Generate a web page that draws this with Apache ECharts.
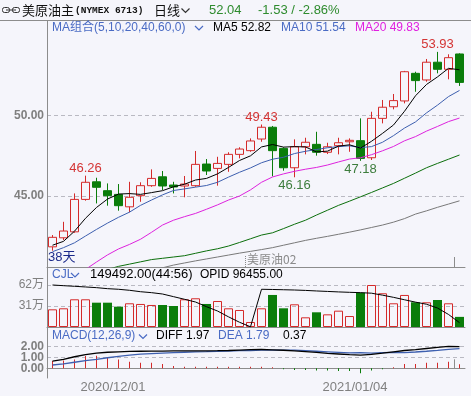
<!DOCTYPE html>
<html><head><meta charset="utf-8">
<script src="https://cdn.jsdelivr.net/npm/echarts@6/dist/echarts.min.js"></script>
<style>html,body{margin:0;padding:0;background:#f5f5fb;}#c{width:471px;height:396px;}</style>
</head><body><div id="c"></div>
<script>
const dates = ['2020/11/23','2020/11/24','2020/11/25','2020/11/26','2020/11/27','2020/11/30','2020/12/01','2020/12/02','2020/12/03','2020/12/04','2020/12/07','2020/12/08','2020/12/09','2020/12/10','2020/12/11','2020/12/14','2020/12/15','2020/12/16','2020/12/17','2020/12/18','2020/12/21','2020/12/22','2020/12/23','2020/12/24','2020/12/28','2020/12/29','2020/12/30','2020/12/31','2021/01/04','2021/01/05','2021/01/06','2021/01/07','2021/01/08','2021/01/11','2021/01/12','2021/01/13','2021/01/14','2021/01/15'];
const opens  = [41.85,42.41,42.78,44.79,45.88,45.33,45.10,44.33,45.02,45.64,46.19,45.68,45.62,45.64,46.98,46.71,46.96,47.58,47.81,48.53,49.26,47.95,46.75,48.05,48.20,47.71,48.12,48.36,48.43,47.37,49.81,50.53,50.89,52.60,52.19,53.29,52.85,53.80];
const closes = [42.44,42.83,44.79,45.85,45.54,45.02,44.40,44.92,45.64,46.09,45.62,45.56,45.74,46.96,46.55,47.02,47.58,47.91,48.41,49.26,47.81,46.75,48.05,48.33,47.71,48.05,48.30,48.45,47.33,49.81,50.50,50.91,52.70,52.15,53.29,52.85,53.57,52.04];
const lows   = [41.61,42.27,42.72,44.71,44.54,44.40,44.09,43.99,44.64,45.57,45.37,45.16,44.92,45.57,46.30,45.64,46.50,47.33,47.74,48.36,46.22,46.57,46.16,47.58,47.50,47.60,47.58,47.74,47.18,47.23,49.50,50.37,50.74,51.46,52.08,52.60,52.23,51.82];
const highs  = [42.58,43.40,45.16,46.26,46.13,45.78,45.74,45.88,45.85,46.65,46.55,45.88,46.24,47.79,47.29,47.43,47.71,48.02,48.57,49.43,49.34,48.02,48.51,48.61,48.98,48.30,48.61,48.57,49.81,50.22,50.95,51.32,52.75,52.70,53.49,53.93,53.78,53.84];
const ma5  = [41.95,42.19,42.82,43.62,44.29,44.81,45.12,45.15,45.10,45.21,45.33,45.57,45.73,45.99,46.09,46.37,46.77,47.20,47.49,48.04,48.19,48.03,48.06,48.04,47.73,47.78,48.09,48.17,47.97,48.39,48.88,49.40,50.25,51.21,51.91,52.38,52.91,52.82];
const ma10 = [41.55,41.80,42.10,42.52,42.93,43.32,43.68,44.00,44.42,44.75,45.07,45.34,45.44,45.55,45.65,45.85,46.17,46.47,46.74,47.06,47.28,47.40,47.63,47.77,47.88,47.99,48.06,48.11,48.00,48.06,48.33,48.74,49.21,49.59,50.15,50.63,51.16,51.54];
const ma20 = [null,null,null,40.45,40.91,41.35,41.72,42.00,42.32,42.75,43.20,43.50,43.72,43.92,44.18,44.45,44.75,45.00,45.38,45.85,46.18,46.37,46.53,46.66,46.77,46.92,47.11,47.29,47.37,47.56,47.80,48.07,48.42,48.68,49.02,49.31,49.61,49.83];
const ma40 = [null,null,null,null,null,40.45,40.64,40.78,40.92,41.06,41.14,41.22,41.30,41.45,41.60,41.73,41.90,42.12,42.35,42.58,42.72,42.98,43.25,43.50,43.82,44.12,44.42,44.68,44.95,45.22,45.50,45.78,46.10,46.42,46.75,47.02,47.28,47.54];
const ma60 = [null,null,null,null,null,null,null,null,null,40.40,40.55,40.72,40.85,40.98,41.10,41.22,41.34,41.46,41.57,41.68,41.80,41.95,42.10,42.25,42.38,42.50,42.63,42.76,42.90,43.05,43.20,43.38,43.60,43.88,44.08,44.30,44.50,44.70];
const volumes = [261000,276000,409000,409000,359000,359000,300000,350000,340000,325000,325000,310000,409000,424000,340000,384000,276000,251000,74000,276000,473000,276000,335000,143000,217000,187000,241000,162000,507000,620000,498000,350000,473000,365000,365000,399000,350000,149492];
const openInterest = [620000,610000,601000,591000,581000,566000,557000,542000,521000,507000,487000,448000,409000,369000,300000,236000,150000,70000,3000,557000,554000,550000,546000,540000,532000,525000,518000,512000,507000,499000,470000,438000,402000,367000,336000,280000,185000,64000];
const diff = [0.66,0.82,1.05,1.25,1.38,1.46,1.50,1.53,1.55,1.56,1.57,1.58,1.59,1.59,1.59,1.60,1.62,1.66,1.69,1.71,1.68,1.64,1.58,1.52,1.44,1.36,1.30,1.24,1.19,1.27,1.38,1.50,1.62,1.70,1.80,1.90,2.00,1.97];
const dea  = [0.30,0.40,0.55,0.70,0.82,0.96,1.08,1.20,1.28,1.33,1.38,1.43,1.46,1.49,1.51,1.54,1.56,1.60,1.62,1.65,1.65,1.66,1.65,1.60,1.55,1.50,1.45,1.40,1.42,1.38,1.42,1.45,1.43,1.48,1.55,1.63,1.72,1.79];
const macdHist = [0.66,0.72,0.81,1.11,1.14,1.00,0.81,0.60,0.51,0.51,0.39,0.21,0.15,0.15,0.15,0.14,0.14,0.14,0.14,0.14,0.09,-0.09,-0.15,-0.15,-0.20,-0.20,-0.24,-0.24,-0.45,-0.20,-0.09,0.09,0.39,0.39,0.51,0.51,0.60,0.37];
const priceTicks = [45, 50];
const volTicks = [310000, 620000];
const macdTicks = [0, 1, 2];
const dateLabelIdx = [6, 28];
const lastTickIdx = [37];
const rollIdx = [18];
const rollName = '美原油02';
const highMarkIdx = [3, 19, 35];
const lowMarkIdx = [22, 28];

const UP = '#d42a2a', DOWN = '#0a7d0a', AX = '#8c8c8c', GRIDC = '#b9b9c2';
const LAT = 'Liberation Sans, Noto Sans CJK SC';
const chart = echarts.init(document.getElementById('c'), null, {renderer: 'canvas'});

function catAxis(g) {
  return {type: 'category', gridIndex: g, data: dates, boundaryGap: true, position: 'bottom',
    axisLine: {show: true, lineStyle: {color: AX, width: 1}}, axisTick: {show: false}, axisLabel: {show: false}, splitLine: {show: false}};
}
function valX(g, extra) {
  return Object.assign({type: 'value', gridIndex: g, min: 0, max: dates.length, position: 'bottom',
    axisLine: {show: false}, splitLine: {show: false}, axisLabel: {show: false}, axisTick: {show: false}}, extra);
}
const yLabel = {color: '#7f7f7f', fontSize: 12, fontFamily: LAT, margin: 3, hideOverlap: false, showMinLabel: true, showMaxLabel: true};
const dash = {show: true, lineStyle: {color: GRIDC, type: [4, 3], width: 1}};
const MACD_MIN = -0.882, MACD_MAX = 3.755;

const txt = (t, x, y, fill, size, fam, weight) => ({type: 'text', x: x, y: y, silent: true,
  style: {text: t, fill: fill, fontSize: size, fontFamily: fam || LAT, fontWeight: weight || 'normal', verticalAlign: 'middle'}});
const chev = (x, y, c) => ({type: 'polyline', silent: true, shape: {points: [[x, y - 2], [x + 4, y + 2], [x + 8, y - 2]]}, style: {stroke: c, fill: null, lineWidth: 1.2}});

const option = {
  animation: false,
  backgroundColor: '#f5f5fb',
  grid: [
    {left: 47, width: 418, top: 21, height: 246},
    {left: 47, width: 418, top: 267, height: 60},
    {left: 47, width: 418, top: 327, height: 51}
  ],
  xAxis: [
    catAxis(0), catAxis(1), catAxis(2),
    valX(0, {axisTick: {show: true, inside: true, length: 10, customValues: lastTickIdx, lineStyle: {color: AX}}}),
    valX(0, {axisTick: {show: true, inside: true, length: 12, customValues: rollIdx, lineStyle: {color: '#888', type: 'dotted'}},
             axisLabel: {show: true, inside: true, customValues: rollIdx, formatter: () => rollName, align: 'left', padding: [0, 0, 0, 2], margin: 2, color: '#8a8a8a', fontSize: 12, fontFamily: 'Noto Sans CJK SC, Liberation Sans'}}),
    valX(2, {axisTick: {show: true, inside: true, length: 9, customValues: lastTickIdx, lineStyle: {color: AX}},
             axisLabel: {show: true, customValues: dateLabelIdx, formatter: v => dates[Math.round(v)], color: '#808080', fontSize: 13, fontFamily: LAT, margin: 3}})
  ],
  yAxis: [
    {type: 'value', gridIndex: 0, min: 40.601, max: 55.843, axisLine: {show: true, lineStyle: {color: AX}},
     axisTick: {show: false, customValues: priceTicks}, axisLabel: Object.assign({customValues: priceTicks, formatter: v => v.toFixed(2), fontWeight: 'bold'}, yLabel), splitLine: dash},
    {type: 'value', gridIndex: 1, min: 0, max: 885714, axisLine: {show: true, lineStyle: {color: AX}},
     axisTick: {show: false, customValues: volTicks}, axisLabel: Object.assign({customValues: volTicks, formatter: v => Math.round(v / 10000) + '万'}, yLabel), splitLine: dash},
    {type: 'value', gridIndex: 2, min: MACD_MIN, max: MACD_MAX, axisLine: {show: true, lineStyle: {color: AX}},
     axisTick: {show: false, customValues: macdTicks}, axisLabel: Object.assign({customValues: macdTicks.filter((v, i) => i % 2 === 0), formatter: v => v.toFixed(2), fontWeight: 'bold'}, yLabel), splitLine: dash},
    {type: 'value', gridIndex: 2, min: MACD_MIN, max: MACD_MAX, position: 'left', axisLine: {show: false},
     axisTick: {show: false, customValues: macdTicks.filter((v, i) => i % 2 === 1)}, axisLabel: Object.assign({customValues: macdTicks.filter((v, i) => i % 2 === 1), formatter: v => v.toFixed(2), fontWeight: 'bold'}, yLabel), splitLine: {show: false}}
  ],
  series: [
    {type: 'candlestick', xAxisIndex: 0, yAxisIndex: 0, barWidth: 8,
     data: dates.map((d, i) => [opens[i], closes[i], lows[i], highs[i]]),
     itemStyle: {color: 'transparent', color0: DOWN, borderColor: UP, borderColor0: DOWN, borderWidth: 1},
     markPoint: {symbol: 'circle', symbolSize: 0, animation: false,
       label: {show: true, fontSize: 13, fontFamily: LAT, formatter: p => Number(p.value).toFixed(2)},
       data: highMarkIdx.map(i => ({coord: [dates[i], highs[i]], value: highs[i], label: {position: 'top', distance: 1, color: '#d43434'}}))
         .concat(lowMarkIdx.map(i => ({coord: [dates[i], lows[i]], value: lows[i], label: {position: 'bottom', distance: 2, color: '#3d7d3d'}})))}
    },
    {type: 'line', name: 'MA60', xAxisIndex: 0, yAxisIndex: 0, data: ma60, symbol: 'none', lineStyle: {color: '#787878', width: 1}},
    {type: 'line', name: 'MA40', xAxisIndex: 0, yAxisIndex: 0, data: ma40, symbol: 'none', lineStyle: {color: '#0b6e0b', width: 1}},
    {type: 'line', name: 'MA20', xAxisIndex: 0, yAxisIndex: 0, data: ma20, symbol: 'none', lineStyle: {color: '#dd22dd', width: 1}},
    {type: 'line', name: 'MA10', xAxisIndex: 0, yAxisIndex: 0, data: ma10, symbol: 'none', lineStyle: {color: '#3d5faf', width: 1}},
    {type: 'line', name: 'MA5', xAxisIndex: 0, yAxisIndex: 0, data: ma5, symbol: 'none', lineStyle: {color: '#000000', width: 1}},
    {type: 'bar', xAxisIndex: 1, yAxisIndex: 1, barWidth: 9,
     data: volumes.map((v, i) => ({value: v, itemStyle: closes[i] >= opens[i] ? {color: 'transparent', borderColor: UP, borderWidth: 1} : {color: DOWN}}))},
    {type: 'line', xAxisIndex: 1, yAxisIndex: 1, data: openInterest, symbol: 'none', lineStyle: {color: '#000', width: 1}},
    {type: 'bar', xAxisIndex: 2, yAxisIndex: 2, barWidth: 1,
     data: macdHist.map(v => ({value: v, itemStyle: {color: v >= 0 ? UP : DOWN}}))},
    {type: 'line', xAxisIndex: 2, yAxisIndex: 2, data: dea, symbol: 'none', lineStyle: {color: '#3d5faf', width: 1.3}},
    {type: 'line', xAxisIndex: 2, yAxisIndex: 2, data: diff, symbol: 'none', lineStyle: {color: '#000', width: 1.3}}
  ],
  graphic: [
    {type: 'line', silent: true, shape: {x1: 0, y1: 20.5, x2: 471, y2: 20.5}, style: {stroke: AX, lineWidth: 1}},
    {type: 'rect', silent: true, shape: {x: 2.5, y: 7.5, width: 7, height: 5, r: 2}, style: {stroke: '#333', fill: null, lineWidth: 1}},
    {type: 'rect', silent: true, shape: {x: 12.5, y: 7.5, width: 7, height: 5, r: 2}, style: {stroke: '#333', fill: null, lineWidth: 1}},
    {type: 'line', silent: true, shape: {x1: 6, y1: 10, x2: 16, y2: 10}, style: {stroke: '#333', lineWidth: 1}},
    txt('美原油主', 22, 10.5, '#111', 13, 'Noto Sans CJK SC'),
    txt('(NYMEX 6713)', 75, 10.5, '#111', 9.5, 'Liberation Mono', 'bold'),
    txt('日线', 154, 10.5, '#111', 13, 'Noto Sans CJK SC'),
    chev(181.5, 10.5, '#333'),
    txt('52.04', 209, 10.5, '#2e8b2e', 13),
    txt('-1.53 / -2.86%', 258, 10.5, '#2e8b2e', 13),
    txt('MA组合(5,10,20,40,60,0)', 52, 27.5, '#4a6bc4', 12),
    chev(195, 28, '#4a6bc4'),
    txt('MA5 52.82', 213, 27.5, '#000', 12),
    txt('MA10 51.54', 281, 27.5, '#4a6bc4', 12),
    txt('MA20 49.83', 355, 27.5, '#e020e0', 12),
    txt('38天', 48, 257.5, '#1c2a8a', 13),
    txt('CJL', 52, 274.7, '#4a6bc4', 12),
    chev(71, 275, '#4a6bc4'),
    txt('149492.00(44:56)', 90, 274.7, '#000', 13),
    txt('OPID 96455.00', 200, 274.7, '#000', 12),
    txt('MACD(12,26,9)', 52, 336, '#4a6bc4', 12),
    chev(139, 336.5, '#4a6bc4'),
    txt('DIFF 1.97', 156, 336, '#000', 12),
    txt('DEA 1.79', 218, 336, '#4a6bc4', 12),
    txt('0.37', 283, 336, '#000', 12)
  ]
};
chart.setOption(option);
</script></body></html>
